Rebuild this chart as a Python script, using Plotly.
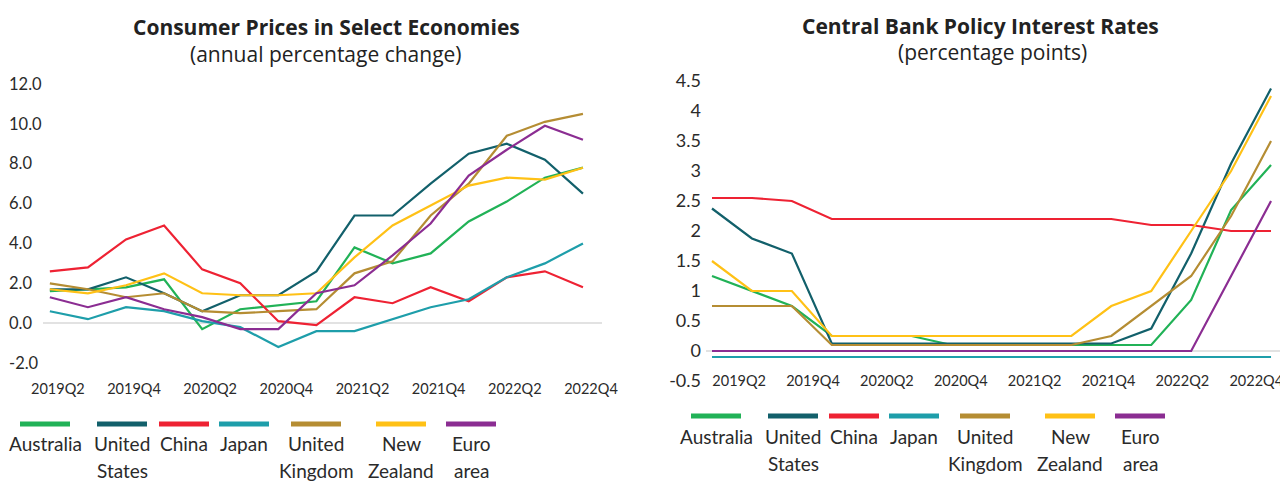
import plotly.graph_objects as go

# ---------------- data ----------------
quarters = ["2019Q2", "2019Q3", "2019Q4", "2020Q1", "2020Q2", "2020Q3", "2020Q4",
            "2021Q1", "2021Q2", "2021Q3", "2021Q4", "2022Q1", "2022Q2", "2022Q3", "2022Q4"]
tick_quarters = quarters[::2]

series_names = ["Australia", "United States", "China", "Japan",
                "United Kingdom", "New Zealand", "Euro area"]
series_colors = ["#21B257", "#12606B", "#EE2233", "#1E9EAA", "#B58D33", "#FFC116", "#8B2D92"]

# Consumer prices, annual percentage change
cpi_australia = [1.6, 1.7, 1.8, 2.2, -0.3, 0.7, 0.9, 1.1, 3.8, 3.0, 3.5, 5.1, 6.1, 7.3, 7.8]
cpi_us = [1.7, 1.7, 2.3, 1.5, 0.6, 1.4, 1.4, 2.6, 5.4, 5.4, 7.0, 8.5, 9.0, 8.2, 6.5]
cpi_china = [2.6, 2.8, 4.2, 4.9, 2.7, 2.0, 0.1, -0.1, 1.3, 1.0, 1.8, 1.1, 2.3, 2.6, 1.8]
cpi_japan = [0.6, 0.2, 0.8, 0.6, 0.1, -0.2, -1.2, -0.4, -0.4, 0.2, 0.8, 1.2, 2.3, 3.0, 4.0]
cpi_uk = [2.0, 1.7, 1.3, 1.5, 0.6, 0.5, 0.6, 0.7, 2.5, 3.1, 5.4, 7.0, 9.4, 10.1, 10.5]
cpi_nz = [1.7, 1.5, 1.9, 2.5, 1.5, 1.4, 1.4, 1.5, 3.3, 4.9, 5.9, 6.9, 7.3, 7.2, 7.8]
cpi_euro = [1.3, 0.8, 1.3, 0.7, 0.3, -0.3, -0.3, 1.5, 1.9, 3.4, 5.0, 7.4, 8.7, 9.9, 9.2]

# Central bank policy interest rates, percentage points
rate_australia = [1.25, 1.0, 0.75, 0.25, 0.25, 0.25, 0.1, 0.1, 0.1, 0.1, 0.1, 0.1, 0.85, 2.35, 3.1]
rate_us = [2.375, 1.875, 1.625, 0.125, 0.125, 0.125, 0.125, 0.125, 0.125, 0.125, 0.125, 0.375, 1.625, 3.125, 4.375]
rate_china = [2.55, 2.55, 2.5, 2.2, 2.2, 2.2, 2.2, 2.2, 2.2, 2.2, 2.2, 2.1, 2.1, 2.0, 2.0]
rate_japan = [-0.1, -0.1, -0.1, -0.1, -0.1, -0.1, -0.1, -0.1, -0.1, -0.1, -0.1, -0.1, -0.1, -0.1, -0.1]
rate_uk = [0.75, 0.75, 0.75, 0.1, 0.1, 0.1, 0.1, 0.1, 0.1, 0.1, 0.25, 0.75, 1.25, 2.25, 3.5]
rate_nz = [1.5, 1.0, 1.0, 0.25, 0.25, 0.25, 0.25, 0.25, 0.25, 0.25, 0.75, 1.0, 2.0, 3.0, 4.25]
rate_euro = [0.0, 0.0, 0.0, 0.0, 0.0, 0.0, 0.0, 0.0, 0.0, 0.0, 0.0, 0.0, 0.0, 1.25, 2.5]

cpi_ticks = [-2, 0, 2, 4, 6, 8, 10, 12]
cpi_ticktext = ["-2.0", "0.0", "2.0", "4.0", "6.0", "8.0", "10.0", "12.0"]
rate_ticks = [-0.5, 0, 0.5, 1, 1.5, 2, 2.5, 3, 3.5, 4, 4.5]
rate_ticktext = ["-0.5", "0", "0.5", "1", "1.5", "2", "2.5", "3", "3.5", "4", "4.5"]

cpi_series = [cpi_australia, cpi_us, cpi_china, cpi_japan, cpi_uk, cpi_nz, cpi_euro]
rate_series = [rate_australia, rate_us, rate_china, rate_japan, rate_uk, rate_nz, rate_euro]

# ---------------- figure ----------------
# The page body keeps its default 8px margin, so the figure is sized to fill the rest
# of the 1288x481 window; px()/py() take window pixel positions.
OFF = 8
W, H = 1288 - OFF, 481 - OFF
FONT = "Lato, 'Open Sans', sans-serif"
TITLE_FONT = "'Open Sans', Lato, sans-serif"
TXT = "#2a2a2a"

fig = go.Figure()
for name, color, vals in zip(series_names, series_colors, cpi_series):
    fig.add_trace(go.Scatter(x=quarters, y=vals, name=name, mode="lines",
                             line=dict(color=color, width=2.2),
                             xaxis="x", yaxis="y", showlegend=False))
for name, color, vals in zip(series_names, series_colors, rate_series):
    fig.add_trace(go.Scatter(x=quarters, y=vals, name=name, mode="lines",
                             line=dict(color=color, width=2.2),
                             xaxis="x2", yaxis="y2", showlegend=False))


def px(x):
    return min(max((x - OFF) / W, 0.0), 1.0)


def py(y):
    return min(max((H - (y - OFF)) / H, 0.0), 1.0)


common_x = dict(type="category", showgrid=False, zeroline=False, showline=False, ticks="",
                tickangle=0, automargin=False,
                tickfont=dict(size=14.5, color=TXT, family=FONT))

# right-panel labels are spread evenly, slightly narrower than the data spacing
right_tick_pos = [0.68 + 1.85 * i for i in range(len(tick_quarters))]

fig.update_layout(
    width=W, height=H,
    margin=dict(l=0, r=0, t=0, b=0, autoexpand=False),
    paper_bgcolor="white", plot_bgcolor="white",
    font=dict(family=FONT, color=TXT),
    showlegend=False,
    xaxis=dict(domain=[px(43), px(602)], range=[-0.18, 14.5], anchor="y",
               tickmode="array", tickvals=tick_quarters, ticktext=tick_quarters,
               ticklabelshift=8, ticklabelstandoff=4, **common_x),
    yaxis=dict(domain=[py(374), py(72)], range=[-2.55, 12.6], anchor="free", position=0.0,
               side="left", ticklabelposition="inside", ticklabelstandoff=-3, automargin=False,
               tickmode="array", tickvals=cpi_ticks, ticktext=cpi_ticktext,
               showgrid=False, zeroline=True, showline=False,
               zerolinecolor="#E2E2E2", zerolinewidth=1.5, ticks="",
               tickfont=dict(size=16.5, color=TXT, family=FONT)),
    xaxis2=dict(domain=[px(706), 1.0], range=[-0.15, 14.425], anchor="y2",
                tickmode="array", tickvals=right_tick_pos, ticktext=tick_quarters,
                ticklabelstandoff=-12, **common_x),
    yaxis2=dict(domain=[py(382.2), py(79.8)], range=[-0.52, 4.52], anchor="x2",
                tickmode="array", tickvals=rate_ticks, ticktext=rate_ticktext,
                ticklabelstandoff=4,
                showgrid=False, zeroline=True, zerolinecolor="#E2E2E2", zerolinewidth=1.5,
                ticks="", showline=False, automargin=False,
                tickfont=dict(size=18, color=TXT, family=FONT)),
)

# titles
titles = [
    (326, "<b>Consumer Prices in Select Economies</b>", 26.5, 21),
    (326, "(annual percentage change)", 54, 21),
    (980, "<b>Central Bank Policy Interest Rates</b>", 26, 21),
    (992, "(percentage points)", 52.5, 21),
]
for x, text, y, size in titles:
    fig.add_annotation(x=px(x), y=py(y), xref="paper", yref="paper", text=text,
                       showarrow=False, xanchor="center", yanchor="middle",
                       font=dict(size=size, color="#222222", family=TITLE_FONT))

# custom legends (swatch above label)
legend_sets = [
    dict(centers=[45, 122, 184, 244, 316, 401, 471], bar_y=424, line_y=[443, 470]),
    dict(centers=[716, 793, 854, 914, 985, 1070, 1140], bar_y=416, line_y=[436, 463]),
]
for lg in legend_sets:
    for cx, name, color in zip(lg["centers"], series_names, series_colors):
        fig.add_shape(type="rect", xref="paper", yref="paper",
                      x0=px(cx - 25), x1=px(cx + 25),
                      y0=py(lg["bar_y"] + 2.5), y1=py(lg["bar_y"] - 2.5),
                      fillcolor=color, line=dict(width=0))
        for i, word in enumerate(name.split(" ")):
            fig.add_annotation(x=px(cx), y=py(lg["line_y"][i]), xref="paper", yref="paper",
                               text=word, showarrow=False, xanchor="center", yanchor="middle",
                               font=dict(size=19, color=TXT, family=FONT))

fig.write_html("out.html")
